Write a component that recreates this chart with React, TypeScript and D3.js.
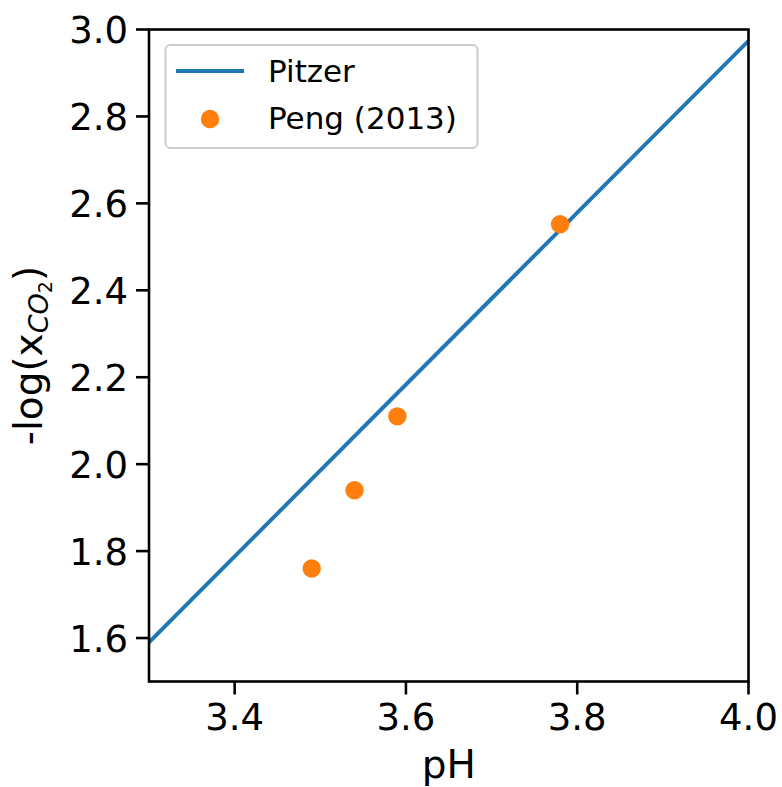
import React from "react";
import * as d3 from "d3";

const pitzerPH = [3.3, 4.0];
const pitzerLogX = [1.59, 2.974];
const pengPH = [3.49, 3.54, 3.59, 3.78];
const pengLogX = [1.76, 1.94, 2.11, 2.552];
const xTicks = [3.4, 3.6, 3.8, 4.0];
const yTicks = [1.6, 1.8, 2.0, 2.2, 2.4, 2.6, 2.8, 3.0];
const legendLabels = ["Pitzer", "Peng (2013)"];

const W = 782;
const H = 787;
const L = 149, R = 748.5, T = 29.5, B = 681.5;
const FONT = "DejaVu Sans, sans-serif";

export default function App() {
  const x = d3.scaleLinear().domain([3.3, 4.0]).range([L, R]);
  const y = d3.scaleLinear().domain([1.5, 3.0]).range([B, T]);
  const line = d3
    .line<number>()
    .x((_, i) => x(pitzerPH[i]))
    .y((d) => y(d));
  return (
    <svg
      width={W}
      height={H}
      style={{ position: "absolute", left: 0, top: 0, background: "#fff" }}
      fontFamily={FONT}
    >
      <defs>
        <clipPath id="plotclip">
          <rect x={L} y={T} width={R - L} height={B - T} />
        </clipPath>
      </defs>
      <rect x={0} y={0} width={W} height={H} fill="#fff" />
      <g clipPath="url(#plotclip)">
        <path d={line(pitzerLogX) || ""} fill="none" stroke="#1f77b4" strokeWidth={3.9} />
        {pengPH.map((p, i) => (
          <circle key={i} cx={x(p)} cy={y(pengLogX[i])} r={9.2} fill="#ff7f0e" />
        ))}
      </g>
      {/* spines */}
      <rect x={L} y={T} width={R - L} height={B - T} fill="none" stroke="#000" strokeWidth={2.6} />
      {/* y ticks */}
      {yTicks.map((t) => (
        <g key={"y" + t}>
          <line x1={L - 13} x2={L} y1={y(t)} y2={y(t)} stroke="#000" strokeWidth={2.6} />
          <text x={L - 21} y={y(t) + 13.5} textAnchor="end" fontSize={37} fill="#000">
            {t.toFixed(1)}
          </text>
        </g>
      ))}
      {/* x ticks */}
      {xTicks.map((t) => (
        <g key={"x" + t}>
          <line x1={x(t)} x2={x(t)} y1={B} y2={B + 13} stroke="#000" strokeWidth={2.6} />
          <text x={x(t)} y={B + 48} textAnchor="middle" fontSize={37} fill="#000">
            {t.toFixed(1)}
          </text>
        </g>
      ))}
      {/* axis labels */}
      <text x={(L + R) / 2} y={778} textAnchor="middle" fontSize={39} fill="#000">
        pH
      </text>
      <g transform={`translate(42, ${(T + B) / 2}) rotate(-90)`}>
        <text x={0} y={0} textAnchor="middle" fontSize={39} fill="#000">
          <tspan>-log(x</tspan>
          <tspan fontStyle="italic" fontSize={27} dy={6}>CO</tspan>
          <tspan fontSize={19} dy={4}>2</tspan>
          <tspan dy={-10}>)</tspan>
        </text>
      </g>
      {/* legend */}
      <g>
        <rect x={165.5} y={45} width={312} height={103} rx={5} fill="#fff" fillOpacity={0.8} stroke="#cccccc" strokeWidth={2} />
        <line x1={176} x2={244} y1={71} y2={71} stroke="#1f77b4" strokeWidth={3.9} />
        <circle cx={210} cy={119} r={9.2} fill="#ff7f0e" />
        <text x={268} y={82} fontSize={31} fill="#000">{legendLabels[0]}</text>
        <text x={268} y={129} fontSize={31} fill="#000">{legendLabels[1]}</text>
      </g>
    </svg>
  );
}
